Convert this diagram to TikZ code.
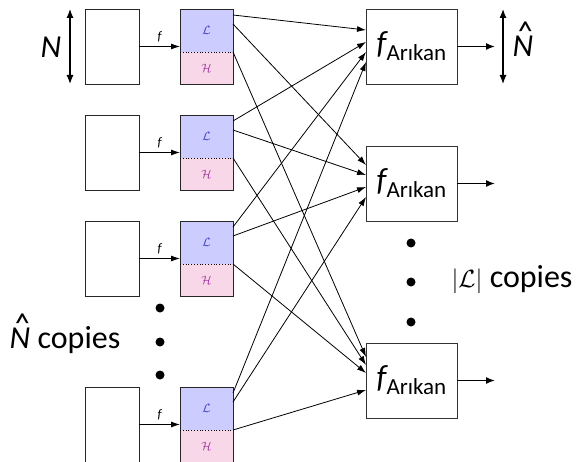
\documentclass[tikz,border=0pt]{standalone}
\usepackage{fontspec}
\setmainfont{Carlito}
\usetikzlibrary{arrows.meta,calc}
\definecolor{lfill}{RGB}{204,204,255}
\definecolor{hfill}{RGB}{248,215,232}
\definecolor{ltext}{RGB}{55,55,200}
\definecolor{htext}{RGB}{160,50,160}
\newcommand{\hatN}{\ooalign{N\cr\hidewidth\kern3pt\raisebox{13pt}{\^{}}\hidewidth\cr}}
\begin{document}
\begin{tikzpicture}[x=1pt,y=-1pt,
  srcbox/.style={draw=black!85,line width=0.9pt,minimum width=54pt,minimum height=75pt,inner sep=0pt,outer sep=0pt,anchor=north west},
  lbox/.style={fill=lfill,minimum width=53pt,minimum height=43pt,inner sep=0pt,outer sep=0pt,text=ltext,font=\fontsize{13}{15}\selectfont},
  hbox/.style={fill=hfill,minimum width=53pt,minimum height=32pt,inner sep=0pt,outer sep=0pt,text=htext,font=\fontsize{13}{15}\selectfont},
  fbox/.style={draw=black!80,line width=0.9pt,minimum width=91pt,minimum height=75pt,inner sep=0pt,outer sep=0pt,anchor=north west},
  conn/.style={line width=0.8pt,-{Latex[length=9pt,width=6pt]}},
  farr/.style={line width=0.9pt,-{Latex[length=9pt,width=6pt]}},
  outarr/.style={line width=1.4pt,-{Latex[length=9pt,width=7pt]}},
  dblarr/.style={line width=1.2pt,{Latex[length=9pt,width=7pt]}-{Latex[length=9pt,width=7pt]}},
  big/.style={font=\fontsize{32}{36}\selectfont},
  dotmark/.style={fill=black}
]
\useasboundingbox (0,0) rectangle (580,462);

% source rows
\foreach \i/\t in {1/9,2/115,3/221,4/387}{
  \node[srcbox] (A\i) at (85,\t) {};
  \node[lbox,anchor=north west] (L\i) at (180,\t) {$\mathcal{L}$};
  \node[hbox,anchor=north] (H\i) at (L\i.south) {$\mathcal{H}$};
  \draw[black!85,line width=0.9pt] (L\i.north west) rectangle (H\i.south east);
  \draw[dotted,line width=0.8pt] (L\i.south west) -- (L\i.south east);
  \draw[farr] (A\i.east) -- (A\i.east -| L\i.west)
     node[midway,above=1pt,font=\fontsize{13}{15}\selectfont\itshape] {f};
}

% Arikan boxes
\foreach \j/\t in {1/9,2/146,3/343}{
  \node[fbox] (F\j) at (366,\t) {{\fontsize{32}{36}\selectfont\itshape f}\raisebox{-7pt}{\fontsize{23}{26}\selectfont Arıkan}};
  \coordinate (O\j) at ($(F\j.east)+(38,0)$);
  \draw[outarr] (F\j.east) -- (O\j);
}

% connectors
\foreach \i/\a/\b/\c in {1/21/19/14,2/33/29/22,3/43/41/30,4/53/51/47}{
  \draw[conn] ($(L\i.north east)+(0,6)$) -- ($(F1.north west)+(0,\a)$);
  \draw[conn] ($(L\i.north east)+(0,15)$) -- ($(F2.north west)+(0,\b)$);
  \draw[conn] (L\i.south east) -- ($(F3.north west)+(0,\c)$);
}

% N arrow
\coordinate (na) at (70,9);
\coordinate (nb) at (70,84);
\draw[dblarr] (na) -- (nb);
\node[big] (Nlab) at (51,47) {\itshape N};

% N hat arrow
\coordinate (ma) at (503,9);
\coordinate (mb) at (503,84);
\draw[dblarr] (ma) -- (mb);
\node[big] (Mlab) at (523,46) {\itshape \hatN};

% right dots
\foreach \y in {243,282,322}{
  \fill[dotmark] (411,\y) circle (4.5pt);
}
\node[big,anchor=west] (lcopies) at (448,280) {$|\mathcal{L}|$ copies};

% left dots
\foreach \y in {308,342,375}{
  \fill[dotmark] (160,\y) circle (4.5pt);
}
\node[big] (ncopies) at (65,340) {{\itshape \hatN} copies};
\end{tikzpicture}
\end{document}
